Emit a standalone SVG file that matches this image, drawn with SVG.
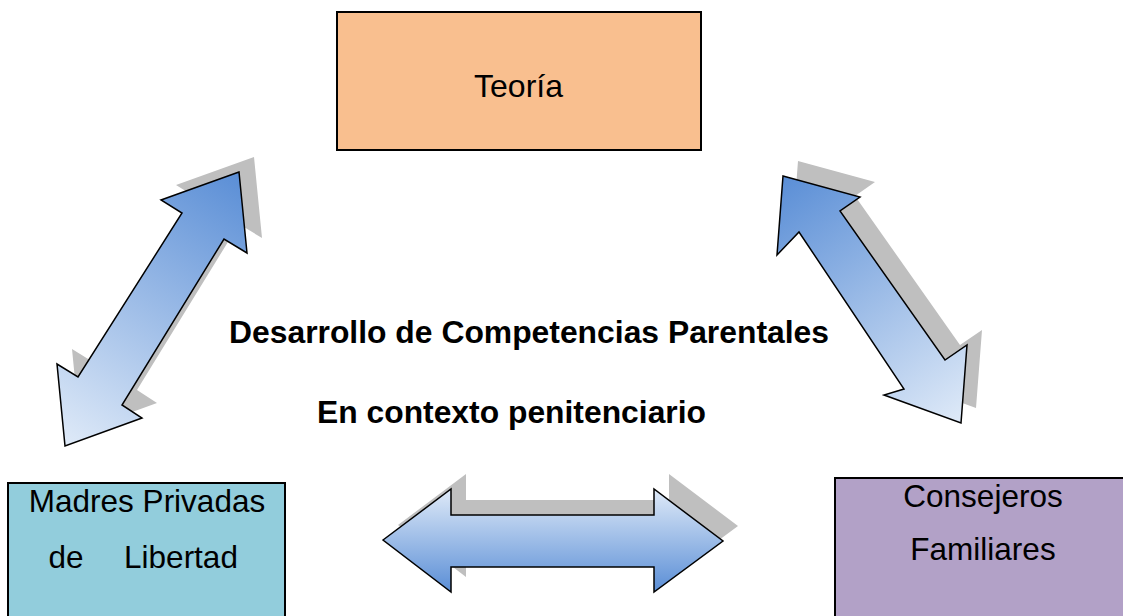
<svg xmlns="http://www.w3.org/2000/svg" width="1123" height="616" viewBox="0 0 1123 616">
<defs>
<linearGradient id="gL" gradientUnits="userSpaceOnUse" x1="239" y1="172" x2="65" y2="446">
<stop offset="0" stop-color="#5A8ED6"/><stop offset="1" stop-color="#DFEAF8"/></linearGradient>
<linearGradient id="gR" gradientUnits="userSpaceOnUse" x1="783" y1="176" x2="961" y2="423">
<stop offset="0" stop-color="#5A8ED6"/><stop offset="1" stop-color="#DFEAF8"/></linearGradient>
<linearGradient id="gB" gradientUnits="userSpaceOnUse" x1="0" y1="489" x2="0" y2="592">
<stop offset="0" stop-color="#DFEAF8"/><stop offset="1" stop-color="#5A8ED6"/></linearGradient>
</defs>
<style>
.box{stroke:#000;stroke-width:2}
.arrow{stroke:#000;stroke-width:1.5;stroke-linejoin:miter}
.shadow{fill:#BFBFBF}
.t{font-family:"Liberation Sans",Arial,sans-serif;fill:#000;text-anchor:middle}
.s{font-size:31.5px}
.b{font-family:"Liberation Sans",Arial,sans-serif;font-weight:bold;font-size:32px;fill:#000}
</style>
<rect width="1123" height="616" fill="#fff"/>
<g id="connectors">
<g id="arrow-left">
<polygon class="shadow" transform="translate(15,-15)" points="239,172 161,200 182,213 78,377 57,364 65,446 142,418 122,405 224,239 247,253"/>
<polygon class="arrow" fill="url(#gL)" points="239,172 161,200 182,213 78,377 57,364 65,446 142,418 122,405 224,239 247,253"/>
</g>
<g id="arrow-right">
<polygon class="shadow" transform="translate(15,-15)" points="783,176 860,197 840,211 945,360 967,345 961,423 884,395 904,389 799,232 777,255"/>
<polygon class="arrow" fill="url(#gR)" points="783,176 860,197 840,211 945,360 967,345 961,423 884,395 904,389 799,232 777,255"/>
</g>
<g id="arrow-bottom">
<polygon class="shadow" transform="translate(15,-15)" points="383,540 451,489 451,515 654,515 654,489 723,541 654,592 654,567 451,567 451,592"/>
<polygon class="arrow" fill="url(#gB)" points="383,540 451,489 451,515 654,515 654,489 723,541 654,592 654,567 451,567 451,592"/>
</g>
</g>
<g id="node-teoria">
<rect class="box" x="337" y="12" width="364" height="138" fill="#F9BF8F"/>
<text class="t" x="518.5" y="97" font-size="32">Teoría</text>
</g>
<g id="node-madres">
<rect class="box" x="8" y="483" width="277" height="140" fill="#92CDDC"/>
<text class="t s" x="147" y="512">Madres Privadas</text>
<text class="t s" x="66" y="568">de</text>
<text class="t s" x="181" y="568">Libertad</text>
</g>
<g id="node-consejeros">
<rect class="box" x="835" y="478" width="300" height="150" fill="#B2A1C7"/>
<text class="t s" x="983" y="507">Consejeros</text>
<text class="t s" x="983" y="560">Familiares</text>
</g>
<g id="center-label">
<text class="b" x="229" y="343" textLength="600" lengthAdjust="spacingAndGlyphs">Desarrollo de Competencias Parentales</text>
<text class="b" x="317" y="423" textLength="389" lengthAdjust="spacingAndGlyphs">En contexto penitenciario</text>
</g>
</svg>
